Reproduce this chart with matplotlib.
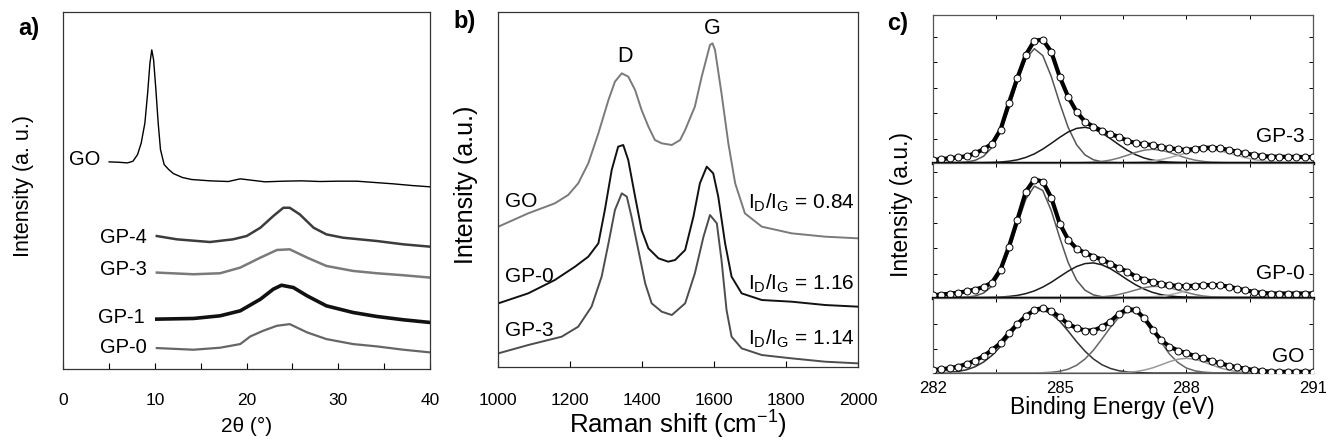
import matplotlib
matplotlib.use("Agg")

import matplotlib.pyplot as plt
from matplotlib.ticker import MultipleLocator

plt.rcParams["font.family"] = ["Liberation Sans", "DejaVu Sans"]
plt.rcParams["mathtext.default"] = "regular"

# ---------------------------------------------------------------------------
# DATA  (a) XRD
# ---------------------------------------------------------------------------

xrd_go_x = [5, 6, 7, 7.6, 8.1, 8.5, 8.9, 9.2, 9.45, 9.65, 9.85, 10.1, 10.35, 10.6,
            11.0, 11.5, 12, 13, 14, 16, 18, 19.3, 20.5, 22, 24, 26, 28, 30, 32,
            34, 36, 38, 40]
xrd_go_y = [62.3, 62.2, 62, 62.5, 64.5, 68, 74, 83, 92, 96, 93, 84, 74, 66,
            61.5, 60, 58.8, 57.6, 57, 56.6, 56.4, 57.2, 56.8, 56.3, 56.5, 56.6,
            56.4, 56.5, 56.5, 56.1, 55.7, 55.2, 54.8]

xrd_gp4_x = [10.2, 12.4, 16.0, 18.5, 20.0, 21.5, 22.9, 24.0, 24.7, 25.8, 27.3,
             28.7, 30.5, 34.2, 37.1, 40]
xrd_gp4_y = [40, 39, 38.2, 39, 40, 42.5, 46, 48.5, 48.5, 46.5, 42.5, 40.5, 39.5,
             38.5, 37.5, 36.8]

xrd_gp3_x = [10.2, 14.2, 17.1, 19.3, 21.5, 23.3, 24.7, 26.6, 28.7, 31.6, 34.2,
             37.1, 40]
xrd_gp3_y = [29, 28.5, 28.8, 30.5, 33.5, 35.8, 36, 33.5, 31, 29.5, 28.8, 28.2, 27.5]

xrd_gp1_x = [10.2, 14.2, 17.1, 19.3, 21.5, 22.9, 23.8, 25.1, 26.6, 28.7, 31.6,
             34.2, 37.1, 40]
xrd_gp1_y = [15, 15.2, 16, 17.5, 21, 24, 25.2, 24.5, 22, 19, 17, 15.8, 14.8, 14]

xrd_gp0_x = [10.2, 14.2, 17.1, 19.3, 20.4, 21.8, 23.3, 24.7, 26.6, 28.7, 31.6,
             34.2, 37.1, 40]
xrd_gp0_y = [6.3, 5.8, 6.4, 7.5, 9.8, 11.5, 13, 13.5, 11, 9, 7.5, 6.8, 5.8, 5]

# ---------------------------------------------------------------------------
# DATA  (b) Raman
# ---------------------------------------------------------------------------

raman_go_x = [1000, 1083, 1157, 1194, 1222, 1250, 1278, 1306, 1324, 1343, 1361,
              1380, 1398, 1417, 1435, 1454, 1482, 1505, 1519, 1546, 1565, 1588,
              1595, 1602, 1620, 1639, 1658, 1685, 1732, 1815, 1908, 2000]
raman_go_y = [42, 46, 49, 51.5, 55, 61, 70, 80, 85.5, 88, 87, 83, 77, 72, 68,
              67, 66.5, 68, 71, 78, 87, 96.5, 97, 95, 82, 67, 55, 46, 42, 40,
              39, 38.5]

raman_gp0_x = [1000, 1083, 1157, 1213, 1250, 1278, 1296, 1315, 1333, 1347, 1361,
               1380, 1398, 1417, 1445, 1472, 1491, 1519, 1542, 1560, 1579, 1597,
               1611, 1630, 1648, 1676, 1732, 1815, 1908, 2000]
raman_gp0_y = [19, 22, 26, 30, 33, 37, 47, 59, 66, 66.5, 62, 51, 41, 35.5, 32.5,
               31.5, 32, 35, 45, 55, 60, 58, 51, 37, 27, 22, 20, 19.5, 18.5, 18]

raman_gp3_x = [1000, 1083, 1176, 1222, 1259, 1287, 1306, 1324, 1343, 1357, 1370,
               1389, 1408, 1426, 1454, 1482, 1519, 1546, 1570, 1588, 1607, 1620,
               1634, 1648, 1676, 1732, 1815, 1908, 2000]
raman_gp3_y = [4, 6.5, 9, 12, 18, 27, 37, 47, 52, 51, 45, 35, 25, 19, 16.5, 15.5,
               19, 28, 39, 45.5, 43, 32, 17, 9, 5.5, 3.5, 2.5, 1.5, 1]

raman_ratios = ["0.84", "1.16", "1.14"]

# ---------------------------------------------------------------------------
# DATA  (c) XPS C1s
# ---------------------------------------------------------------------------

be = [282.0, 282.2, 282.4, 282.6, 282.8, 283.0, 283.2, 283.4, 283.6, 283.8,
      284.0, 284.2, 284.4, 284.6, 284.8, 285.0, 285.2, 285.4, 285.6, 285.8,
      286.0, 286.2, 286.4, 286.6, 286.8, 287.0, 287.2, 287.4, 287.6, 287.8,
      288.0, 288.2, 288.4, 288.6, 288.8, 289.0, 289.2, 289.4, 289.6, 289.8,
      290.0, 290.2, 290.4, 290.6, 290.8, 291.0]

gp3_xps = [2.7, 3.6, 4.5, 5.4, 6.5, 9.5, 13.5, 19, 33, 60, 85, 108, 122, 123,
           111, 86, 66, 51, 41, 36, 32, 28.5, 26, 22, 19.5, 18.5, 17.7, 15.8,
           14.4, 13.5, 12.7, 13.8, 15, 15, 14.4, 12.8, 11, 9.3, 7.7, 6.8, 6, 6,
           5.8, 5.8, 5.6, 5.6]
gp3_c1 = [0, 0, 0, 0.2, 0.7, 2.4, 6.5, 15.4, 31.3, 54.5, 81.2, 103.9, 114, 107.1,
          86.3, 59.7, 35.4, 18, 7.8, 2.9, 0.9, 0.3] + [0] * 24
gp3_c2 = [0, 0, 0, 0, 0, 0.1, 0.1, 0.3, 0.7, 1.5, 2.9, 5.3, 8.8, 13.6, 19.3, 25.3,
          30.7, 34.3, 35.4, 33.7, 29.7, 24.1, 18.1, 12.5, 8.0, 4.7, 2.6, 1.3, 0.6,
          0.3, 0.1] + [0] * 15
gp3_c3 = [0] * 18 + [0.2, 0.5, 1.3, 2.6, 4.7, 7.4, 10.3, 12.5, 13.4, 12.5, 10.3,
                     7.4, 4.7, 2.6, 1.3, 0.5, 0.2] + [0] * 11
gp3_c4 = [0] * 23 + [0.2, 0.4, 0.9, 1.8, 3.1, 5.0, 7.3, 9.7, 11.7, 12.8, 12.8,
                     11.7, 9.7, 7.3, 5.0, 3.1, 1.8, 0.9, 0.4, 0.2] + [0] * 3

gp0_xps = [2.3, 3.0, 3.8, 4.8, 6.2, 8.0, 10.5, 15, 28, 51, 78, 106, 118, 116, 100,
           74, 58, 49, 44.5, 41, 38, 34, 29.5, 26, 21, 18, 15.6, 13.8, 12.3, 11.6,
           11.3, 11.8, 12.3, 12.5, 12.3, 10.8, 9, 7.2, 5.6, 4.6, 4, 4, 4, 4, 4, 4]
gp0_c1 = [0] * 4 + [0.4, 1.5, 4.5, 11.5, 25.2, 46.9, 73.8, 98.5, 111.4, 107, 87,
                    60, 35.1, 17.4, 7.3, 2.6, 0.8, 0.2] + [0] * 24
gp0_c2 = [0] * 7 + [0.2, 0.5, 1.1, 2.1, 3.9, 6.6, 10.4, 15.2, 20.8, 26.3, 31,
                    33.9, 34.6, 32.7, 28.8, 23.6, 17.9, 12.7, 8.4, 5.1, 2.9, 1.5,
                    0.8, 0.4, 0.2] + [0] * 14
gp0_c3 = [0] * 19 + [0.3, 0.7, 1.5, 3.0, 5.1, 7.5, 9.8, 11.1, 11.1, 9.8, 7.5, 5.1,
                     3.0, 1.5, 0.7, 0.3] + [0] * 11
gp0_c4 = [0] * 24 + [0.2, 0.4, 0.8, 1.5, 2.7, 4.5, 6.7, 9.1, 11.3, 12.7, 13,
                     12.1, 10.2, 7.9, 5.6, 3.5, 2.1, 1.1, 0.5, 0.2] + [0] * 2

go_xps = [3, 3.8, 4.7, 6.5, 9, 12.5, 17, 23, 30, 40, 49, 57, 63, 65, 62, 56, 49,
          45, 42.5, 42.5, 46, 51.5, 59, 64, 63, 55, 43.5, 33, 26.5, 22.5, 19.7,
          17, 14.7, 12, 9.7, 7.5, 5.7, 4.2, 3, 2, 1.3, 1.2, 1.2, 1.2, 1.2, 1.2]
go_c1 = [0.1, 0.3, 0.7, 1.6, 3.3, 6.3, 11, 17.7, 26.5, 36.7, 47.1, 56, 61.6, 62.8,
         59.3, 51.9, 42, 31.4, 21.8, 14, 8.3, 4.6, 2.3, 1.1, 0.5, 0.2] + [0] * 20
go_c2 = [0] * 13 + [0.3, 0.7, 1.7, 3.8, 7.7, 14, 22.8, 33.9, 45.5, 55.5, 61.3,
                    61.3, 55.5, 45.5, 31, 19, 10.5, 5, 2.2, 0.9, 0.3] + [0] * 12
go_c3 = [0] * 22 + [0.2, 0.6, 1.4, 2.9, 5.1, 8.1, 11.3, 13.8, 14.7, 13.8, 11.3,
                    8.1, 5.1, 2.9, 1.4, 0.6, 0.2] + [0] * 7

# ---------------------------------------------------------------------------
# FIGURE
# ---------------------------------------------------------------------------

W, H = 1326, 446
fig = plt.figure(figsize=(W / 100, H / 100), dpi=100)


def px_axes(left, top, right, bottom):
    return fig.add_axes([left / W, 1 - bottom / H, (right - left) / W, (bottom - top) / H])


def frame(ax, color="#333333", lw=0.9):
    for s in ax.spines.values():
        s.set_color(color)
        s.set_linewidth(lw)


# ---------------------------------------------------------------------------
# (a) XRD
# ---------------------------------------------------------------------------

ax_a = px_axes(63.3, 12.3, 430, 369)
frame(ax_a)
ax_a.plot(xrd_go_x, xrd_go_y, color="black", lw=1.0)
ax_a.plot(xrd_gp4_x, xrd_gp4_y, color="#3c3c3c", lw=1.8)
ax_a.plot(xrd_gp3_x, xrd_gp3_y, color="#7a7a7a", lw=1.8)
ax_a.plot(xrd_gp1_x, xrd_gp1_y, color="#111111", lw=2.6)
ax_a.plot(xrd_gp0_x, xrd_gp0_y, color="#666666", lw=1.6)

for txt, x, y in [("GO", 4.0, 63), ("GP-4", 9.1, 39.5), ("GP-3", 9.1, 30),
                  ("GP-1", 8.9, 15.5), ("GP-0", 9.1, 6.5)]:
    ax_a.text(x, y, txt, ha="right", va="center", fontsize=14.5)

ax_a.set_yticks([])
ax_a.set_xlim(0, 40)
ax_a.set_ylim(0, 107.3)
ax_a.xaxis.set_major_locator(MultipleLocator(10))
ax_a.xaxis.set_minor_locator(MultipleLocator(5))
ax_a.tick_params(axis="x", which="both", direction="in", length=4, width=0.8,
                 labelsize=12.5, pad=17)
ax_a.set_xlabel("2θ (°)", fontsize=15)
ax_a.xaxis.set_label_coords(0.5, -0.135)
ax_a.set_ylabel("Intensity (a. u.)", fontsize=15.5)
ax_a.yaxis.set_label_coords(-0.08, 0.514)

# ---------------------------------------------------------------------------
# (b) Raman
# ---------------------------------------------------------------------------

ax_b = px_axes(498.3, 12.3, 858.3, 366.7)
frame(ax_b)
ax_b.plot(raman_go_x, raman_go_y, color="#7a7a7a", lw=1.4)
ax_b.plot(raman_gp0_x, raman_gp0_y, color="#111111", lw=1.4)
ax_b.plot(raman_gp3_x, raman_gp3_y, color="#4d4d4d", lw=1.4)

for txt, y in [("GO", 49.5), ("GP-0", 27), ("GP-3", 11)]:
    ax_b.text(1018, y, txt, ha="left", va="center", fontsize=15)
for r, y in zip(raman_ratios, [49, 25, 8.5]):
    ax_b.text(1694, y, "I$_D$/I$_G$ = " + r, ha="left", va="center", fontsize=15)
ax_b.text(1352, 93, "D", ha="center", va="center", fontsize=15.5)
ax_b.text(1593, 101.5, "G", ha="center", va="center", fontsize=15.5)

ax_b.set_yticks([])
ax_b.set_xticks([1000, 1200, 1400, 1600, 1800, 2000])
ax_b.set_xlim(1000, 2000)
ax_b.set_ylim(0, 106.3)
ax_b.tick_params(axis="x", direction="in", length=4, width=0.8, labelsize=12.5, pad=19)
ax_b.set_xlabel("Raman shift (cm$^{-1}$)", fontsize=18.5)
ax_b.xaxis.set_label_coords(0.5, -0.12)
ax_b.set_ylabel("Intensity (a.u.)", fontsize=18)
ax_b.yaxis.set_label_coords(-0.055, 0.513)

# ---------------------------------------------------------------------------
# (c) XPS
# ---------------------------------------------------------------------------

c_left, c_right = 933, 1313
ax_c3 = px_axes(c_left, 15, c_right, 162.7)
ax_c0 = px_axes(c_left, 162.7, c_right, 297.5)
ax_cg = px_axes(c_left, 297.5, c_right, 373)

panels = [
    (ax_c3, gp3_xps, [gp3_c1, gp3_c2, gp3_c3, gp3_c4],
     ["#555555", "#1a1a1a", "#777777", "#aaaaaa"], "GP-3", 26, 147.7),
    (ax_c0, gp0_xps, [gp0_c1, gp0_c2, gp0_c3, gp0_c4],
     ["#555555", "#1a1a1a", "#777777", "#aaaaaa"], "GP-0", 24, 134.8),
    (ax_cg, go_xps, [go_c1, go_c2, go_c3],
     ["#333333", "#666666", "#9a9a9a"], "GO", 16.3, 75.5),
]

right_ticks = [24, 49.5, 75, 100.5, 126]

for ax, data, comps, cols, name, label_y, top in panels:
    for comp, col in zip(comps, cols):
        ax.plot(be, comp, color=col, lw=1.1, zorder=2)
    ax.plot(be, data, color="black", lw=3.0, zorder=3)
    ax.plot(be, data, "o", mfc="white", mec="black", ms=5.0, mew=0.7, zorder=4)
    ax.text(290.8, label_y, name, ha="right", va="center", fontsize=15)
    frame(ax, color="#555555", lw=0.9)
    ax.set_xticks([282, 283.5, 285, 286.5, 288, 289.5, 291])
    ax.set_yticks([t for t in right_ticks if t < top])
    ax.set_xlim(282, 291)
    ax.set_ylim(0, top)
    ax.tick_params(which="both", direction="in", length=3, width=0.7,
                   top=True, right=True, labelleft=False, labelbottom=False)

for ax in (ax_c3, ax_c0):
    ax.spines["bottom"].set_color("black")
    ax.spines["bottom"].set_linewidth(2.4)
    ax.spines["bottom"].set_zorder(5)

ax_cg.set_xticklabels(["282", "", "285", "", "288", "", "291"])
ax_cg.tick_params(labelbottom=True, labelsize=12, pad=6)
ax_cg.set_xlabel("Binding Energy (eV)", fontsize=16.5)
ax_cg.xaxis.set_label_coords(0.472, -0.3)
ax_c0.set_ylabel("Intensity (a.u.)", fontsize=16.5)
ax_c0.yaxis.set_label_coords(-0.052, 0.69)

# ---------------------------------------------------------------------------
# PANEL LETTERS
# ---------------------------------------------------------------------------

fig.text(18 / W, 1 - 17 / H, "a)", fontsize=17, fontweight="bold", va="top")
fig.text(453 / W, 1 - 10 / H, "b)", fontsize=17, fontweight="bold", va="top")
fig.text(887 / W, 1 - 12 / H, "c)", fontsize=17, fontweight="bold", va="top")

fig.savefig("out.png", dpi=100)
plt.close(fig)
